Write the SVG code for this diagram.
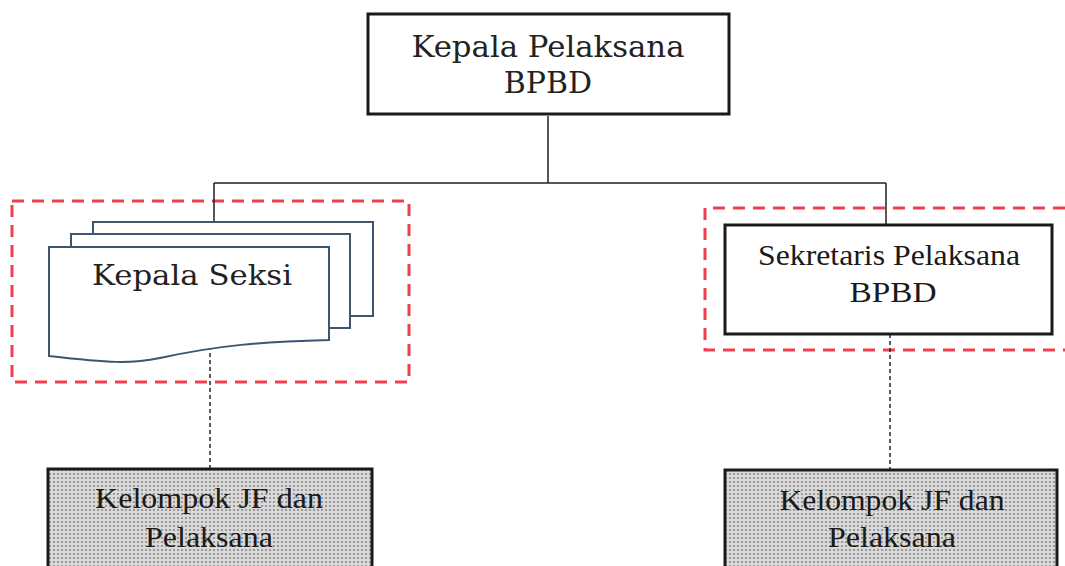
<svg xmlns="http://www.w3.org/2000/svg" width="1065" height="566" viewBox="0 0 1065 566">
<defs>
<pattern id="dots" width="4" height="4" patternUnits="userSpaceOnUse">
<rect width="4" height="4" fill="#dadada"/>
<circle cx="2" cy="2" r="1.1" fill="#8a8a8a"/>
</pattern>
<style>
.box{fill:#fff;stroke:#1a1a1a;stroke-width:3}
.shade{fill:url(#dots);stroke:#1a1a1a;stroke-width:3}
.page{fill:#fff;stroke:#3c5670;stroke-width:2}
.grp{fill:none;stroke:#f0404f;stroke-width:3;stroke-dasharray:12 8}
.solid{fill:none;stroke:#222;stroke-width:1.5}
.dash{fill:none;stroke:#222;stroke-width:1.5;stroke-dasharray:4 3}
.bk{font-family:"DejaVu Serif",serif;fill:#222;text-anchor:middle}
.tm{font-family:"Liberation Serif",serif;fill:#1a1a1a;text-anchor:middle}
</style>
</defs>
<rect width="1065" height="566" fill="#fff"/>
<g id="groups">
<rect class="grp" x="12" y="201" width="397" height="181"/>
<path class="grp" d="M1065 208 H705 V350 H1065"/>
</g>
<g id="connectors">
<path class="solid" d="M548 116 V183 M214 183 H886 M214 183 V222 M886 183 V225"/>
<path class="dash" d="M210 346 V468 M890 334 V469"/>
</g>
<g id="kepala-pelaksana">
<rect class="box" x="368" y="14" width="361" height="100"/>
<text class="bk" x="548" y="57" font-size="30" textLength="273" lengthAdjust="spacingAndGlyphs">Kepala Pelaksana</text>
<text class="bk" x="548" y="93" font-size="30">BPBD</text>
</g>
<g id="kepala-seksi">
<rect class="page" x="93" y="222" width="280" height="94"/>
<rect class="page" x="71" y="234" width="279" height="94"/>
<path class="page" d="M49 247 H329 V340 C260 342 220 345 160 358 C130 364 110 363 49 356 Z"/>
<text class="bk" x="192" y="285" font-size="28" textLength="200" lengthAdjust="spacingAndGlyphs">Kepala Seksi</text>
</g>
<g id="sekretaris">
<rect class="box" x="725" y="225" width="327" height="109"/>
<text class="tm" x="889" y="265" font-size="30" textLength="262" lengthAdjust="spacingAndGlyphs">Sekretaris Pelaksana</text>
<text class="tm" x="893" y="302" font-size="30" textLength="87" lengthAdjust="spacingAndGlyphs">BPBD</text>
</g>
<g id="kelompok-kiri">
<rect class="shade" x="48" y="469" width="324" height="110"/>
<text class="tm" x="209" y="508" font-size="30" textLength="228" lengthAdjust="spacingAndGlyphs">Kelompok JF dan</text>
<text class="tm" x="209" y="547" font-size="30" textLength="128" lengthAdjust="spacingAndGlyphs">Pelaksana</text>
</g>
<g id="kelompok-kanan">
<rect class="shade" x="725" y="470" width="332" height="110"/>
<text class="tm" x="892" y="510" font-size="30" textLength="225" lengthAdjust="spacingAndGlyphs">Kelompok JF dan</text>
<text class="tm" x="892" y="547" font-size="30" textLength="128" lengthAdjust="spacingAndGlyphs">Pelaksana</text>
</g>
</svg>
